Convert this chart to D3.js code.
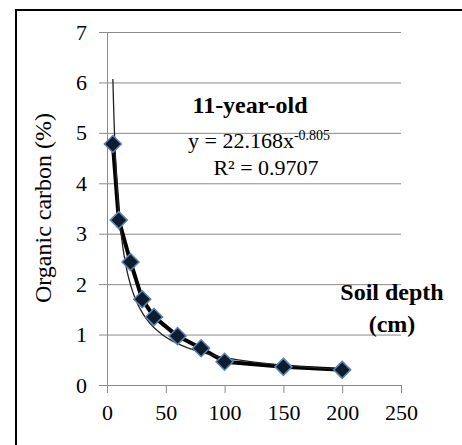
<!DOCTYPE html>
<html>
<head>
<meta charset="utf-8">
<script src="https://d3js.org/d3.v7.min.js"></script>
<style>
  body { margin: 0; background: #fff; }
</style>
</head>
<body>
<div id="chart"></div>
<script>
// soil depth (cm) and organic carbon (%)
const depths = [5, 10, 20, 30, 40, 60, 80, 100, 150, 200];
const carbon = [4.78, 3.27, 2.44, 1.70, 1.35, 0.97, 0.73, 0.46, 0.36, 0.30];
const xTicks = [0, 50, 100, 150, 200, 250];
const yTicks = [0, 1, 2, 3, 4, 5, 6, 7];
// power trendline y = a * x^b
const trendA = 22.168, trendB = -0.805;

const serif = 'Liberation Serif, Times New Roman, serif';
const width = 462, height = 445;
const margin = { top: 32, right: 61, bottom: 60, left: 107 };

const svg = d3.select('#chart').append('svg')
    .attr('width', width)
    .attr('height', height)
    .attr('font-family', serif);

// outer frame (runs off the image at right and bottom)
svg.append('rect')
    .attr('x', 16).attr('y', 10)
    .attr('width', 470).attr('height', 460)
    .attr('fill', 'none')
    .attr('stroke', '#000')
    .attr('stroke-width', 2);

const x = d3.scaleLinear().domain([0, 250]).range([margin.left, width - margin.right]);
const y = d3.scaleLinear().domain([0, 7]).range([height - margin.bottom, margin.top]);

// gridlines
svg.append('g')
    .attr('transform', `translate(${margin.left},0)`)
    .call(d3.axisLeft(y).tickValues(yTicks.slice(1)).tickSize(-(x(250) - x(0))).tickFormat(''))
    .call(g => g.select('.domain').remove())
    .selectAll('line').attr('stroke', '#8a8a8a').attr('stroke-width', 1);

// y axis
const yAxis = svg.append('g')
    .attr('transform', `translate(${margin.left},0)`)
    .call(d3.axisLeft(y).tickValues(yTicks).tickSize(8).tickSizeOuter(0).tickPadding(12).tickFormat(d3.format('d')))
    .attr('font-family', serif)
    .attr('font-size', 22);
yAxis.select('.domain').attr('stroke', '#8a8a8a');
yAxis.selectAll('line').attr('stroke', '#8a8a8a');
yAxis.selectAll('text').attr('fill', '#000');

// x axis
const xAxis = svg.append('g')
    .attr('transform', `translate(0,${y(0)})`)
    .call(d3.axisBottom(x).tickValues(xTicks).tickSize(8).tickSizeOuter(0).tickPadding(11).tickFormat(d3.format('d')))
    .attr('font-family', serif)
    .attr('font-size', 22);
xAxis.select('.domain').attr('stroke', '#8a8a8a');
xAxis.selectAll('line').attr('stroke', '#8a8a8a');
xAxis.selectAll('text').attr('fill', '#000');

const data = depths.map((d, i) => ({ x: d, y: carbon[i] }));

// data line
svg.append('path')
    .datum(data)
    .attr('fill', 'none')
    .attr('stroke', '#000')
    .attr('stroke-width', 4)
    .attr('stroke-linejoin', 'round')
    .attr('d', d3.line().x(d => x(d.x)).y(d => y(d.y)));

// power trendline from the shown equation
const trendX = d3.range(depths[0], depths[depths.length - 1] + 0.5, 0.5);
svg.append('path')
    .datum(trendX)
    .attr('fill', 'none')
    .attr('stroke', '#222')
    .attr('stroke-width', 1.3)
    .attr('d', d3.line().x(d => x(d)).y(d => y(trendA * Math.pow(d, trendB))));

// diamond markers
svg.selectAll('path.marker')
    .data(data)
    .join('path')
    .attr('class', 'marker')
    .attr('transform', d => `translate(${x(d.x)},${y(d.y)})`)
    .attr('d', 'M0,-8.5L8.5,0L0,8.5L-8.5,0Z')
    .attr('fill', '#0f1c2e')
    .attr('stroke', '#5a84b4')
    .attr('stroke-width', 1.5);

// y axis title
svg.append('text')
    .attr('transform', `translate(51,208) rotate(-90)`)
    .attr('text-anchor', 'middle')
    .attr('font-size', 24)
    .text('Organic carbon (%)');

// annotation
svg.append('text')
    .attr('x', 250).attr('y', 113)
    .attr('text-anchor', 'middle')
    .attr('font-size', 24)
    .attr('font-weight', 'bold')
    .text('11-year-old');

const eq = svg.append('text')
    .attr('x', 188).attr('y', 148)
    .attr('font-size', 22);
eq.append('tspan').text('y = 22.168x');
eq.append('tspan').attr('dy', -8).attr('font-size', 14).text('-0.805');

svg.append('text')
    .attr('x', 266).attr('y', 175)
    .attr('text-anchor', 'middle')
    .attr('font-size', 22)
    .text('R² = 0.9707');

svg.append('text')
    .attr('x', 392).attr('y', 300)
    .attr('text-anchor', 'middle')
    .attr('font-size', 24)
    .attr('font-weight', 'bold')
    .text('Soil depth');
svg.append('text')
    .attr('x', 392).attr('y', 332)
    .attr('text-anchor', 'middle')
    .attr('font-size', 24)
    .attr('font-weight', 'bold')
    .text('(cm)');
</script>
</body>
</html>
